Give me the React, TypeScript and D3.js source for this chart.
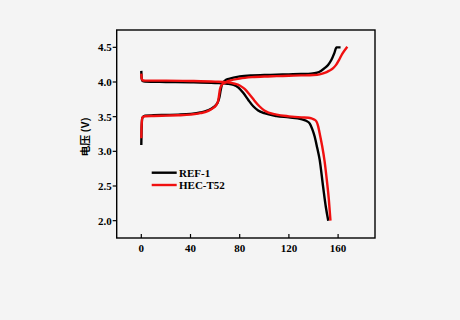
import React from "react";
import * as d3 from "d3";

const xTicks = [0, 40, 80, 120, 160];
const yTicks = [2.0, 2.5, 3.0, 3.5, 4.0, 4.5];
const seriesNames = ["REF-1", "HEC-T52"];
const seriesColors = ["#000000", "#f01010"];

const refChargeX = [0, 0.2, 0.8, 3, 10, 20, 30, 40, 48, 54, 59, 62, 63.5, 64.5, 65.5, 68, 72, 80, 90, 100, 110, 120, 130, 138, 143, 146, 149, 152, 154.6, 157, 158.7, 162];
const refChargeV = [3.09, 3.3, 3.48, 3.515, 3.52, 3.525, 3.53, 3.54, 3.56, 3.59, 3.64, 3.7, 3.78, 3.88, 3.96, 4.02, 4.05, 4.08, 4.095, 4.1, 4.105, 4.11, 4.115, 4.12, 4.135, 4.16, 4.2, 4.25, 4.32, 4.42, 4.5, 4.5];

const refDischargeX = [0, 0.3, 1, 3, 20, 40, 60, 70, 75, 79, 83, 87, 91, 95, 100, 110, 120, 130, 134, 137, 139, 141, 143, 145, 147.8, 150, 152];
const refDischargeV = [4.16, 4.05, 4.015, 4.005, 4.0, 3.995, 3.985, 3.975, 3.96, 3.92, 3.84, 3.74, 3.65, 3.59, 3.55, 3.51, 3.49, 3.465, 3.44, 3.4, 3.32, 3.21, 3.05, 2.88, 2.49, 2.2, 2.0];

const hecChargeX = [0, 0.2, 0.8, 3, 10, 20, 30, 40, 48, 54, 58, 61, 62.5, 63.3, 64, 65.5, 68, 72, 80, 90, 100, 110, 120, 130, 139.7, 145, 149, 152.5, 156, 158.5, 160.8, 163.5, 167.5];
const hecChargeV = [3.19, 3.35, 3.49, 3.505, 3.51, 3.515, 3.52, 3.53, 3.55, 3.58, 3.62, 3.67, 3.73, 3.82, 3.9, 3.96, 3.99, 4.02, 4.05, 4.07, 4.08, 4.085, 4.09, 4.095, 4.1, 4.11, 4.13, 4.16, 4.2, 4.25, 4.32, 4.41, 4.51];

const hecDischargeX = [0, 0.3, 1, 3, 20, 40, 60, 70, 76, 80, 84, 88, 92, 96, 100, 110, 120, 130, 136, 138.4, 140.5, 142.4, 143.8, 145, 147, 149, 151, 152.5, 153.8];
const hecDischargeV = [4.12, 4.05, 4.025, 4.02, 4.02, 4.015, 4.005, 3.995, 3.975, 3.95, 3.9, 3.82, 3.73, 3.65, 3.59, 3.53, 3.505, 3.49, 3.485, 3.475, 3.46, 3.43, 3.36, 3.26, 3.08, 2.86, 2.56, 2.3, 2.0];

const W = 460;
const H = 320;
const L = 116.7, R = 375, T = 30, B = 238;

export default function App() {
  const x = d3.scaleLinear().domain([-20, 190]).range([L, R]);
  const y = d3.scaleLinear().domain([1.75, 4.75]).range([B, T]);
  const line = d3
    .line<[number, number]>()
    .x((d) => x(d[0]))
    .y((d) => y(d[1]))
    .curve(d3.curveMonotoneX);
  const zip = (a: number[], b: number[]) => a.map((v, i) => [v, b[i]] as [number, number]);

  const curves = [
    { d: line(zip(refChargeX, refChargeV)), c: seriesColors[0] },
    { d: line(zip(refDischargeX, refDischargeV)), c: seriesColors[0] },
    { d: line(zip(hecChargeX, hecChargeV)), c: seriesColors[1] },
    { d: line(zip(hecDischargeX, hecDischargeV)), c: seriesColors[1] },
  ];
  const font = "'Liberation Serif', 'Times New Roman', serif";

  return (
    <svg
      width={W}
      height={H}
      style={{ position: "fixed", left: 0, top: 0, background: "#f4f4f4" }}
    >
      <rect x={0} y={0} width={W} height={H} fill="#f4f4f4" />
      {curves.map((c, i) => (
        <path key={i} d={c.d || ""} fill="none" stroke={c.c} strokeWidth={2.4} strokeLinejoin="round" strokeLinecap="butt" />
      ))}
      <rect x={L} y={T} width={R - L} height={B - T} fill="none" stroke="#000" strokeWidth={1.4} />
      {xTicks.map((t) => (
        <g key={t}>
          <line x1={x(t)} x2={x(t)} y1={B} y2={B - 4} stroke="#000" strokeWidth={1.2} />
          <text x={x(t)} y={B + 14} textAnchor="middle" fontFamily={font} fontWeight="bold" fontSize={11}>
            {t}
          </text>
        </g>
      ))}
      {yTicks.map((t) => (
        <g key={t}>
          <line x1={L} x2={L - 4} y1={y(t)} y2={y(t)} stroke="#000" strokeWidth={1.2} />
          <text x={L - 5} y={y(t)} dy="0.35em" textAnchor="end" fontFamily={font} fontWeight="bold" fontSize={11}>
            {t.toFixed(1)}
          </text>
        </g>
      ))}
      <text
        transform="translate(89,137) rotate(-90)"
        textAnchor="middle"
        fontFamily="'Noto Sans CJK SC', 'Noto Sans', sans-serif"
        fontWeight="bold"
        fontSize={10}
        textLength={39}
        lengthAdjust="spacingAndGlyphs"
      >
        电压 (V)
      </text>
      {seriesNames.map((n, i) => (
        <g key={n}>
          <line x1={151.7} x2={176.7} y1={172.7 + i * 12.3} y2={172.7 + i * 12.3} stroke={seriesColors[i]} strokeWidth={2.4} />
          <text x={179} y={172.7 + i * 12.3} dy="0.35em" fontFamily={font} fontWeight="bold" fontSize={11}>
            {n}
          </text>
        </g>
      ))}
    </svg>
  );
}
